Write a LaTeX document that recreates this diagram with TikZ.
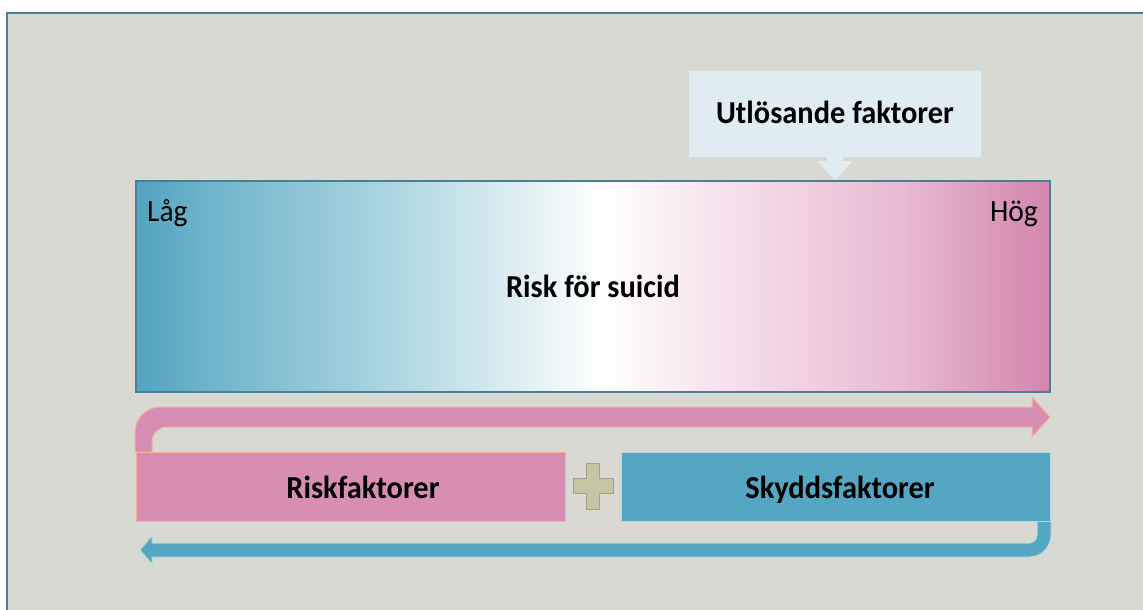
\documentclass[tikz,border=0pt]{standalone}
\usepackage{fontspec}
\setmainfont[FakeStretch=0.95]{Carlito}
\definecolor{bgc}{HTML}{D9D9D3}
\definecolor{framec}{HTML}{4A8296}
\definecolor{tealc}{HTML}{55A6C2}
\definecolor{pinkc}{HTML}{D88EB2}
\definecolor{pinkline}{HTML}{F6B39A}
\definecolor{tealline}{HTML}{AEDDD8}
\definecolor{calloutc}{HTML}{DFEDF3}
\definecolor{plusc}{HTML}{C6C6A6}
\definecolor{plusline}{HTML}{A89E8E}
\definecolor{boxline}{HTML}{4C7F90}
\definecolor{gA}{HTML}{52A4C1}
\definecolor{gA2}{HTML}{6FB4CB}
\definecolor{gB}{HTML}{ADD6E1}
\definecolor{gC}{HTML}{F8E6EF}
\definecolor{gD}{HTML}{E8BAD3}
\definecolor{gE}{HTML}{D385AD}
\pgfdeclarehorizontalshading{riskshade}{100bp}{
  color(0bp)=(gA); color(25bp)=(gA); color(29bp)=(gA2); color(39bp)=(gB); color(50.5bp)=(white);
  color(56bp)=(gC); color(67bp)=(gD); color(75bp)=(gE); color(100bp)=(gE)}
\tikzset{
  lbl/.style={font=\bfseries\fontsize{32}{34}\selectfont, text=black, inner sep=0pt, anchor=base},
  endlbl/.style={font=\fontsize{31}{33}\selectfont, text=black, inner sep=0pt},
  barbox/.style={line width=1pt, minimum width=429pt, minimum height=69pt, anchor=north west, inner sep=0pt},
}
\begin{document}
\begin{tikzpicture}[x=1pt,y=-1pt]
\useasboundingbox (0,0) rectangle (1143,610);
\fill[white] (0,0) rectangle (1143,610);
% frame
\filldraw[fill=bgc, draw=framec, line width=2.5pt] (7,13) rectangle (1160,625);
% gradient box
\shade[shading=riskshade] (136,181) rectangle (1050,392);
\draw[boxline, line width=1.5pt] (136,181) rectangle (1050,392);
\node[lbl] (risk) at (593,297) {Risk för suicid};
\node[endlbl, anchor=base west] (lag) at (147,221) {Låg};
\node[endlbl, anchor=base east] (hog) at (1038,221) {Hög};
% callout
\fill[calloutc] (689,71) -- (981,71) -- (981,157) -- (843,157) -- (843,161) -- (853,161)
  -- (835,180) -- (817,161) -- (827,161) -- (827,157) -- (689,157) -- cycle;
\node[lbl] (utl) at (835,123) {Utlösande faktorer};
% pink U arrow
\filldraw[fill=pinkc, draw=pinkline, line width=1pt]
  (135,452) -- (135,432) arc[start angle=180, end angle=270, radius=25] -- (1032,407)
  -- (1032,397) -- (1050,417) -- (1032,437) -- (1032,427) -- (167,427)
  arc[start angle=270, end angle=180, radius=15] -- (152,452) -- cycle;
% teal U arrow
\filldraw[fill=tealc, draw=tealline, line width=1pt]
  (1051,521) -- (1051,535) arc[start angle=0, end angle=90, radius=22] -- (152,557)
  -- (152,564) -- (140,550) -- (152,536) -- (152,543) -- (1029,543)
  arc[start angle=90, end angle=0, radius=8] -- (1037,521) -- cycle;
% boxes
\node[barbox, draw=pinkline, fill=pinkc] (rf) at (136,452) {};
\node[barbox, draw=tealline, fill=tealc] (sf) at (621,452) {};
\node[lbl] (rft) at ([xshift=12pt,yshift=-11pt]rf.center) {Riskfaktorer};
\node[lbl] (sft) at ([xshift=4pt,yshift=-11pt]sf.center) {Skyddsfaktorer};
% plus
\filldraw[fill=plusc, draw=plusline, line width=1pt]
  (586,463) -- (599,463) -- (599,478) -- (613,478) -- (613,493) -- (599,493) -- (599,509)
  -- (586,509) -- (586,493) -- (573,493) -- (573,478) -- (586,478) -- cycle;
\end{tikzpicture}
\end{document}
